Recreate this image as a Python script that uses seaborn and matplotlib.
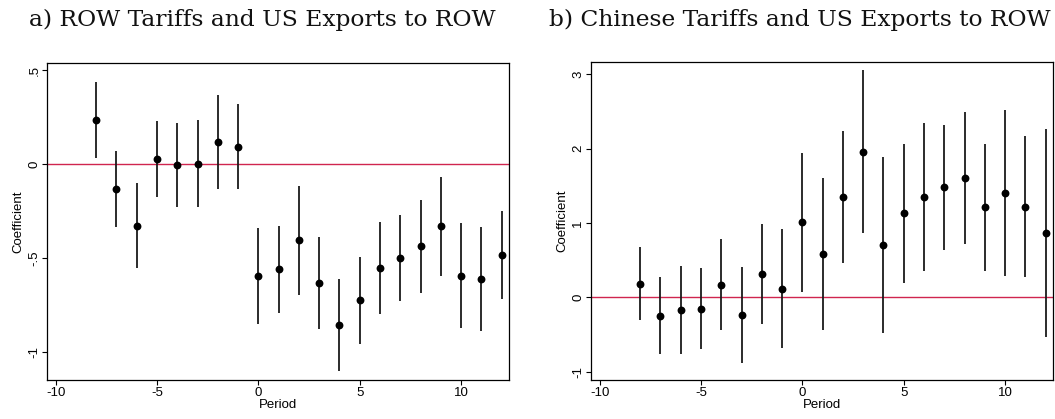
import matplotlib
matplotlib.use("Agg")
import matplotlib.pyplot as plt
import seaborn as sns
import pandas as pd

periods = list(range(-8, 13))

row_coef = [0.234, -0.133, -0.328, 0.027, -0.007, 0.002, 0.115, 0.090, -0.598,
            -0.560, -0.404, -0.633, -0.857, -0.724, -0.552, -0.500, -0.438, -0.332,
            -0.594, -0.610, -0.482]
row_hi = [0.436, 0.071, -0.101, 0.229, 0.216, 0.234, 0.365, 0.317, -0.342,
          -0.332, -0.115, -0.387, -0.610, -0.493, -0.307, -0.270, -0.192, -0.069,
          -0.316, -0.333, -0.250]
row_lo = [0.030, -0.337, -0.553, -0.174, -0.231, -0.231, -0.135, -0.135, -0.851,
          -0.791, -0.695, -0.878, -1.103, -0.956, -0.796, -0.731, -0.688, -0.594,
          -0.872, -0.890, -0.716]

chn_coef = [0.179, -0.247, -0.170, -0.152, 0.166, -0.242, 0.314, 0.112, 1.013,
            0.578, 1.350, 1.955, 0.709, 1.130, 1.354, 1.480, 1.605, 1.211,
            1.404, 1.220, 0.865]
chn_hi = [0.673, 0.274, 0.417, 0.395, 0.780, 0.404, 0.987, 0.915, 1.946,
          1.601, 2.238, 3.054, 1.888, 2.063, 2.350, 2.318, 2.493, 2.063,
          2.516, 2.170, 2.265]
chn_lo = [-0.305, -0.762, -0.758, -0.695, -0.444, -0.883, -0.354, -0.686, 0.072,
          -0.444, 0.466, 0.861, -0.475, 0.197, 0.359, 0.637, 0.722, 0.359,
          0.291, 0.269, -0.529]

titles = ["a) ROW Tariffs and US Exports to ROW",
          "b) Chinese Tariffs and US Exports to ROW"]
xticks = [-10, -5, 0, 5, 10]
a_yticks = [-1, -0.5, 0, 0.5]
a_yticklabels = ["-1", "-.5", "0", ".5"]
b_yticks = [-1, 0, 1, 2, 3]
b_yticklabels = ["-1", "0", "1", "2", "3"]

sns.set_theme(style="white")
plt.rcParams["font.family"] = ["Liberation Sans", "DejaVu Sans"]

fig = plt.figure(figsize=(10.55, 4.19), dpi=100)
ax_a = fig.add_axes([0.0448, 0.0931, 0.4380, 0.7573])
ax_b = fig.add_axes([0.5605, 0.0931, 0.4379, 0.7582])

panels = [
    (ax_a, row_coef, row_lo, row_hi, (-1.149, 0.539), a_yticks, a_yticklabels),
    (ax_b, chn_coef, chn_lo, chn_hi, (-1.112, 3.161), b_yticks, b_yticklabels),
]

for ax, coef, lo, hi, ylim, yt, ytl in panels:
    df = pd.DataFrame({"Period": periods, "Coefficient": coef, "lo": lo, "hi": hi})
    ax.axhline(0, color="#d0254f", lw=1.0, zorder=1)
    ax.vlines(df["Period"], df["lo"], df["hi"], color="#1a1a1a", lw=1.3, zorder=2)
    sns.scatterplot(data=df, x="Period", y="Coefficient", ax=ax, color="black",
                    s=32, edgecolor="black", linewidth=0, zorder=3)
    ax.set_xlim(-10.41, 12.38)
    ax.set_ylim(*ylim)
    ax.set_xticks(xticks)
    ax.set_xticklabels([str(t) for t in xticks])
    ax.set_yticks(yt)
    ax.set_yticklabels(ytl, rotation=90, va="center")
    ax.tick_params(axis="both", which="major", direction="out", length=3.5,
                   width=0.8, color="black", labelsize=9.5, pad=1.5, left=True,
                   bottom=True, labelcolor="black")
    for s in ax.spines.values():
        s.set_visible(True)
        s.set_color("black")
        s.set_linewidth(0.9)
    ax.set_xlabel("Period", fontsize=9.5, labelpad=0, color="black")
    ax.set_ylabel("Coefficient", fontsize=9.5, labelpad=3, color="black")
    ax.set_facecolor("white")

fig.text(0.249, 0.938, titles[0], ha="center", va="baseline", fontsize=16.8,
         family=["DejaVu Serif"], color="#111111")
fig.text(0.758, 0.938, titles[1], ha="center", va="baseline", fontsize=16.8,
         family=["DejaVu Serif"], color="#111111")

fig.savefig("out.png", dpi=100, facecolor="white")
